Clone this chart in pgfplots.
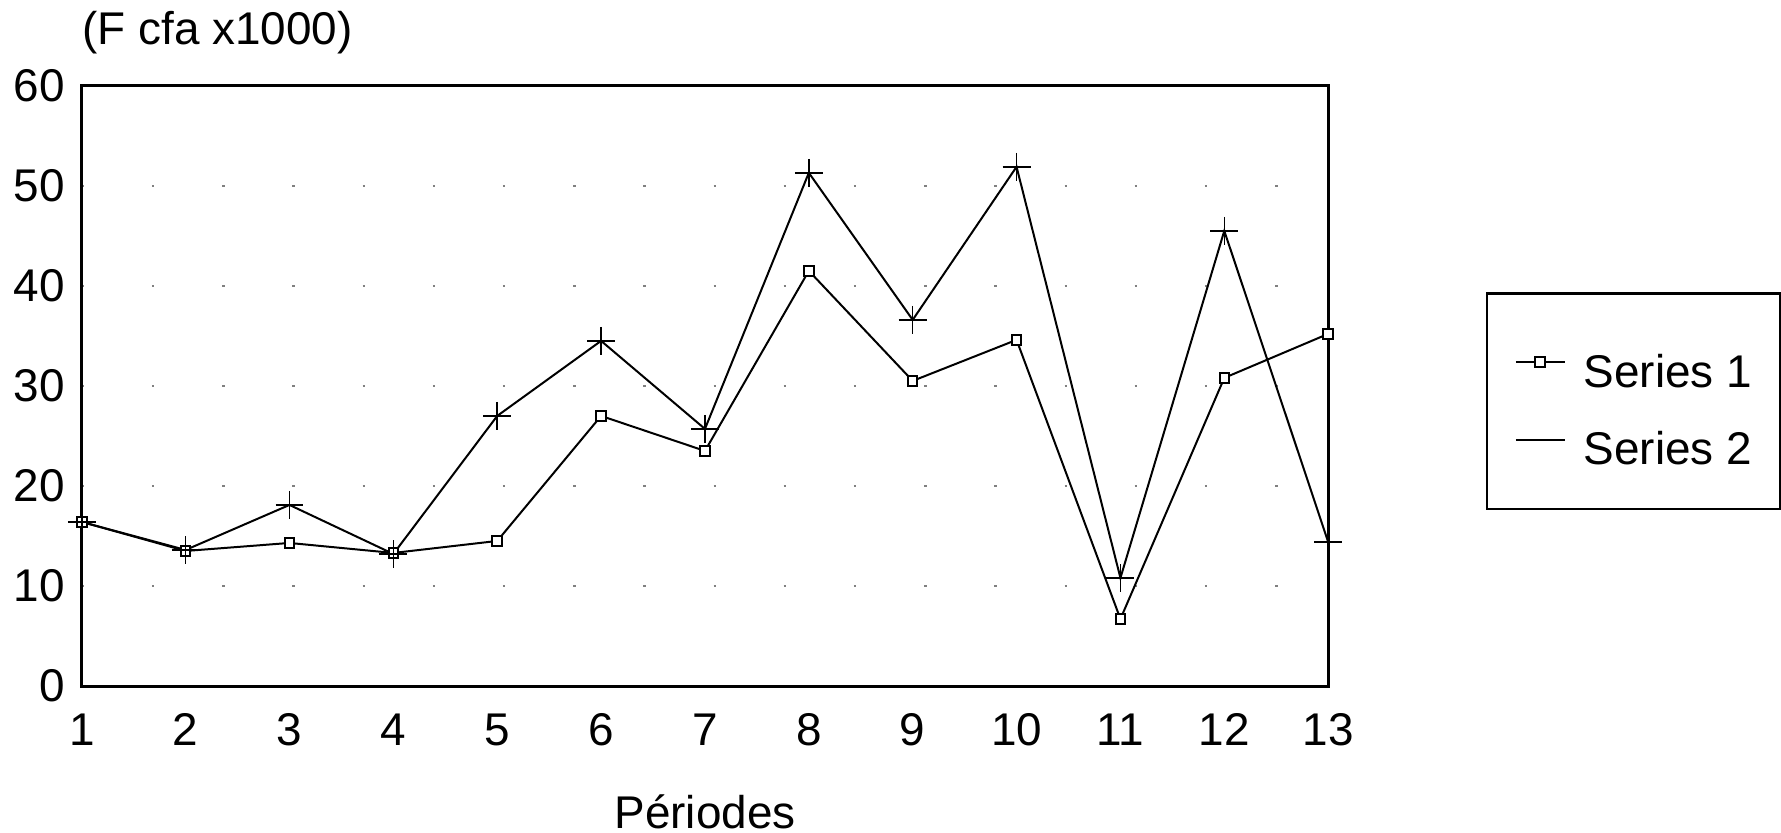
\documentclass[border=0pt]{standalone}
\usepackage{pgfplots}
\pgfplotsset{compat=1.18}
\usepackage{fontspec}
\setmainfont{Liberation Sans}
\begin{document}
\begin{tikzpicture}
\begin{axis}[
  scale only axis,
  width=312.5pt, height=150.5pt,
  xmin=1, xmax=13, ymin=0, ymax=60,
  xtick={1,...,13}, ytick={0,10,...,60},
  major tick length=0pt,
  axis line style={line width=0.75pt},
  font=\fontsize{11.5}{13.8}\selectfont,
  /pgf/number format/assume math mode=true,
  yticklabel style={inner sep=0pt, xshift=-4pt},
  xticklabel style={inner sep=0pt, yshift=-6.75pt},
  ymajorgrids,
  grid style={gray, line width=0.6pt, dash pattern=on 0.6pt off 17pt},
  clip=false,
  legend cell align=left,
  legend image code/.code={\draw[mark repeat=2,mark phase=2,#1] plot coordinates {(0pt,0pt) (6.125pt,0pt) (12.25pt,0pt)};},
  legend style={at={(1.1264,0.6561)}, anchor=north west, draw=black, line width=0.6pt,
    inner xsep=7pt, inner ysep=11pt, row sep=7pt,
    nodes={inner sep=0pt, text height=12.5pt, text depth=0pt, line width=0.5pt},
    /tikz/every odd column/.append style={column sep=4.5pt},
    font=\fontsize{11.5}{13.8}\selectfont},
]
\addplot[black, line width=0.5pt, mark=square*, mark size=1.2pt, mark options={fill=white, line width=0.5pt}]
  coordinates {(1,16.4) (2,13.5) (3,14.3) (4,13.3) (5,14.5) (6,27.0) (7,23.5) (8,41.5) (9,30.5) (10,34.6) (11,6.7) (12,30.8) (13,35.2)};
\addlegendentry{Series 1}
\addplot[black, line width=0.5pt, mark=+, mark size=3.5pt, mark options={line width=0.4pt},
  legend image post style={mark=none}]
  coordinates {(1,16.4) (2,13.6) (3,18.1) (4,13.2) (5,27.0) (6,34.5) (7,25.7) (8,51.3) (9,36.6) (10,51.9) (11,10.8) (12,45.5) (13,14.4)};
\addlegendentry{Series 2}
\node[anchor=base west, inner sep=0pt] at (rel axis cs:0,1) [yshift=10.3pt] {(F cfa x1000)};
\node[anchor=base, inner sep=0pt] at (rel axis cs:0.5,0) [yshift=-35.75pt] {Périodes};
\end{axis}
\path[use as bounding box] (-20.5pt,-36.75pt) rectangle (424.75pt,172pt);
\end{tikzpicture}
\end{document}
